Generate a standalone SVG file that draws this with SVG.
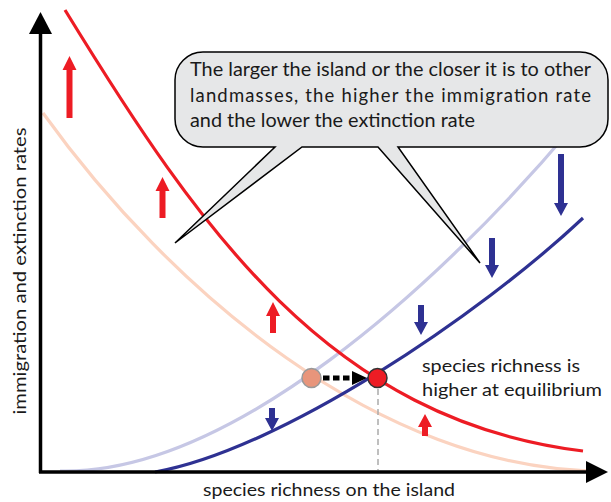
<svg xmlns="http://www.w3.org/2000/svg" width="611" height="502" viewBox="0 0 611 502">
<style>
.t{font-family:Lato,"Open Sans","Liberation Sans",sans-serif;fill:#1a1a1a}
.curve{fill:none;stroke-width:3.2;stroke-linecap:butt}
.up{fill:#ed1c24}
.down{fill:#2e3192}
</style>
<rect width="611" height="502" fill="#fff"/>
<g id="connectors">
<path id="pale-extinction" class="curve" stroke="#fbd3c0" d="M43,113 C170,290 380,470 600,471"/>
<path id="lavender-immigration" class="curve" stroke="#c6c7e5" d="M60,471 C230,475 440,285 575,124"/>
<path id="red-extinction" class="curve" stroke="#ed1c24" d="M65,10 C200,230 330,420 583,451"/>
<path id="blue-immigration" class="curve" stroke="#2e3192" d="M155,472 C280,450 480,315 583,218"/>
<line x1="378" y1="389" x2="378" y2="470" stroke="#aaaaaa" stroke-width="1.5" stroke-dasharray="6,4"/>
<line x1="323" y1="378" x2="353" y2="378" stroke="#000" stroke-width="5" stroke-dasharray="6.5,3.5"/>
<path d="M352,371 L367,378 L352,385 Z" fill="#000"/>
</g>
<g id="axes">
<line x1="40.5" y1="473" x2="40.5" y2="30" stroke="#000" stroke-width="3.5"/>
<path d="M29,34 L40.5,12 L52,34 Z" fill="#000"/>
<line x1="39" y1="472" x2="590" y2="472" stroke="#000" stroke-width="3.5"/>
<path d="M586,461 L608,472 L586,483 Z" fill="#000"/>
<text class="t" font-size="17" text-anchor="middle" transform="translate(26,271) rotate(-90)" textLength="287" lengthAdjust="spacingAndGlyphs">immigration and extinction rates</text>
<text class="t" x="329" y="496" font-size="17" text-anchor="middle" textLength="252" lengthAdjust="spacingAndGlyphs">species richness on the island</text>
</g>
<g id="callout">
<path d="M203,52 H580 A28,28 0 0 1 608,80 V119 A28,28 0 0 1 580,147 H398 L480,263 L378,147 H302 L175,243 L275,147 H203 A28,28 0 0 1 175,119 V80 A28,28 0 0 1 203,52 Z" fill="#e6e7e8" stroke="#000" stroke-width="1.5" stroke-linejoin="miter"/>
<text class="t" x="190" y="76" font-size="18.5" textLength="401" lengthAdjust="spacingAndGlyphs">The larger the island or the closer it is to other</text>
<text class="t" x="190" y="102" font-size="18.5" textLength="401" lengthAdjust="spacing">landmasses, the higher the immigration rate</text>
<text class="t" x="190" y="127" font-size="18.5" textLength="285" lengthAdjust="spacingAndGlyphs">and the lower the extinction rate</text>
</g>
<g id="red-arrows" class="up">
<path d="M66.5,118 V70 H62.5 L69.5,56 L76.5,70 H72.5 V118 Z"/>
<path d="M159.5,218 V191 H155.5 L162.5,177 L169.5,191 H165.5 V218 Z"/>
<path d="M270,333 V316 H266 L273,302 L280,316 H276 V333 Z"/>
<path d="M422,436 V427 H418 L425,414 L432,427 H428 V436 Z"/>
</g>
<g id="blue-arrows" class="down">
<path d="M558,154 H564 V203 H568 L561,216 L554,203 H558 Z"/>
<path d="M489,238 H495 V265 H499 L492,278 L485,265 H489 Z"/>
<path d="M418,305 H424 V322 H428 L421,335 L414,322 H418 Z"/>
<path d="M269,408 H275 V418 H279 L272,431 L265,418 H269 Z"/>
</g>
<g id="node-old-equilibrium">
<circle cx="311.5" cy="378" r="9.5" fill="#e8957b" stroke="#999" stroke-width="1.5"/>
</g>
<g id="node-new-equilibrium">
<circle cx="377.5" cy="378" r="9.5" fill="#ed1c24" stroke="#333" stroke-width="1.5"/>
</g>
<g id="label-equilibrium">
<text class="t" x="422" y="372" font-size="17" textLength="158" lengthAdjust="spacingAndGlyphs">species richness is</text>
<text class="t" x="422" y="396" font-size="17" textLength="180" lengthAdjust="spacingAndGlyphs">higher at equilibrium</text>
</g>
</svg>
